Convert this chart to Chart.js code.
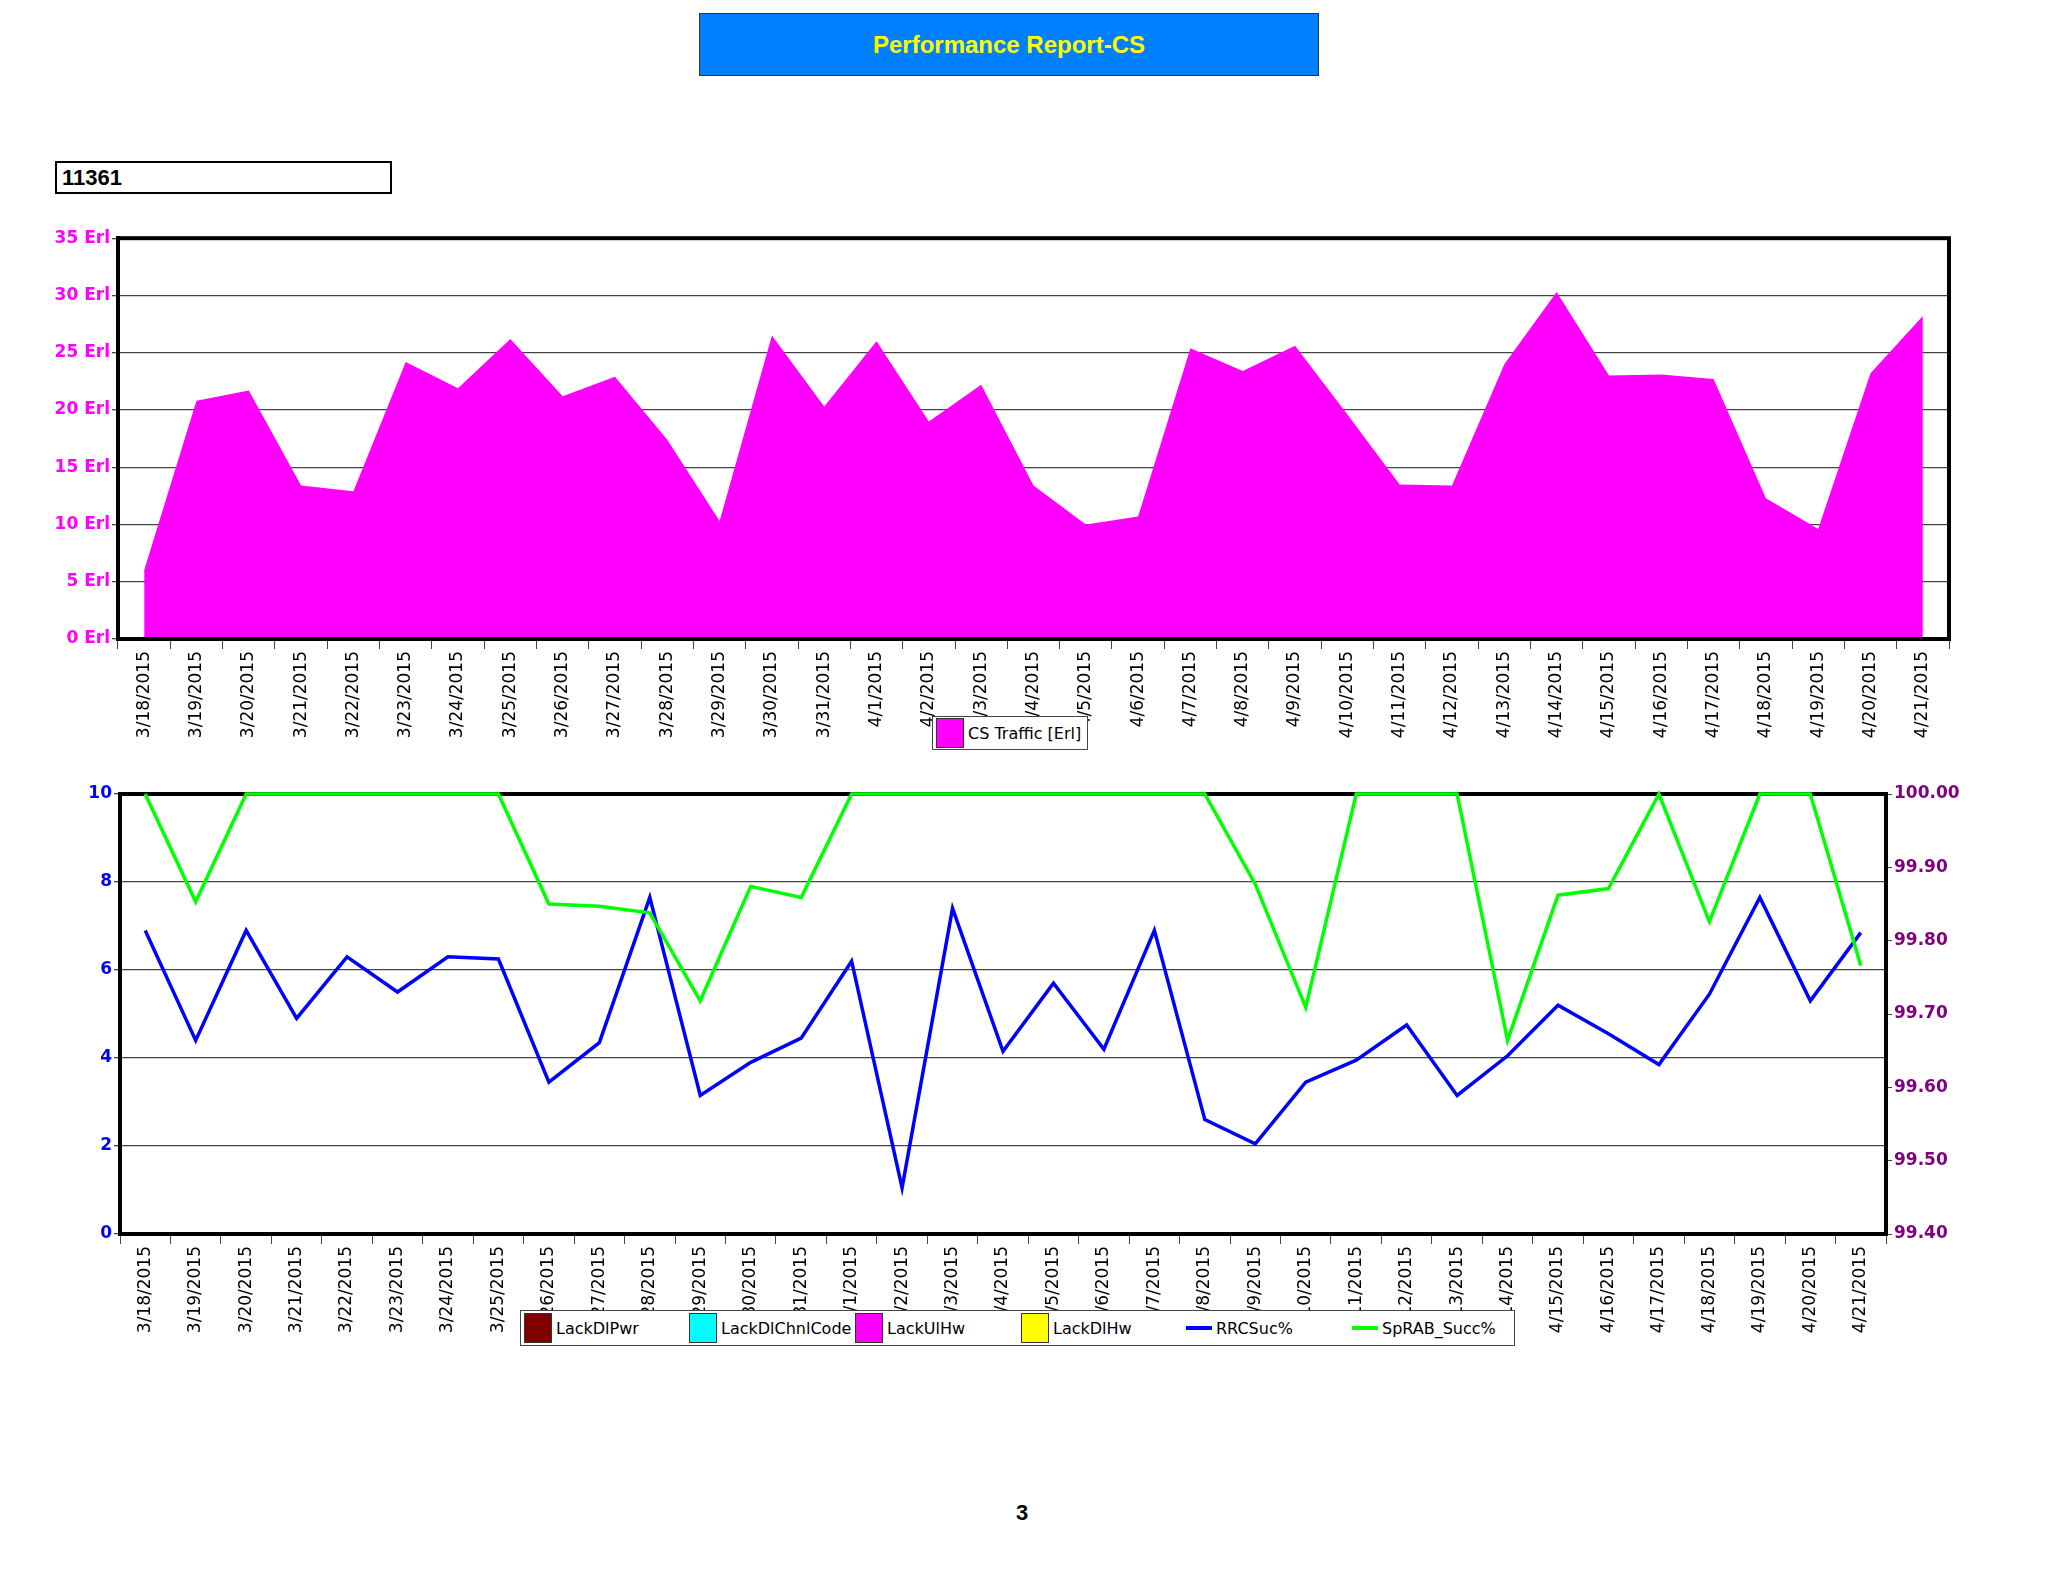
<!DOCTYPE html>
<html><head><meta charset="utf-8">
<script src="https://cdn.jsdelivr.net/npm/chart.js@4"></script>
<style>
body{margin:0;width:2048px;height:1582px;background:#fff;position:relative;font-family:"DejaVu Sans",sans-serif;overflow:hidden}
#title{position:absolute;left:699px;top:13px;width:618px;height:61px;background:#0080FF;border:1px solid #333;color:#FFFF00;font:bold 24px "Liberation Sans",Arial;display:flex;align-items:center;justify-content:center}
#site{position:absolute;left:55px;top:161px;width:328px;height:29px;border:2px solid #000;font:bold 22px "Liberation Sans",Arial;line-height:29px;padding-left:5px;box-sizing:content-box}
.cv{position:absolute}
#leg1{position:absolute;left:932px;top:716px;height:32px;border:1px solid #444;background:#fff;font:16px "DejaVu Sans";display:flex;align-items:center;padding:0 6px 0 3px}
#leg2{position:absolute;left:520px;top:1310px;width:993px;height:34px;border:1px solid #444;background:#fff;font:16px "DejaVu Sans";display:flex;align-items:center}
.it{display:flex;align-items:center;position:absolute}
.sw{width:26px;height:28px;border:1px solid #333;margin-right:4px}
.ln{width:26px;height:4px;margin-right:4px}
#pg{position:absolute;left:1016px;top:1500px;font:bold 22px "Liberation Sans",Arial}
</style></head><body>
<div id="title">Performance Report-CS</div>
<div id="site">11361</div>
<canvas id="c1" class="cv" style="left:0;top:226px" width="1960" height="513"></canvas>
<canvas id="c2" class="cv" style="left:0;top:780px" width="1990" height="554"></canvas>
<div id="leg1"><div class="sw" style="background:#FF00FF"></div>CS Traffic [Erl]</div>
<div id="leg2">
<div class="it" style="left:3px"><div class="sw" style="background:#800000"></div>LackDlPwr</div>
<div class="it" style="left:168px"><div class="sw" style="background:#00FFFF"></div>LackDlChnlCode</div>
<div class="it" style="left:334px"><div class="sw" style="background:#FF00FF"></div>LackUlHw</div>
<div class="it" style="left:500px"><div class="sw" style="background:#FFFF00"></div>LackDlHw</div>
<div class="it" style="left:665px"><div class="ln" style="background:#0000FF"></div>RRCSuc%</div>
<div class="it" style="left:831px"><div class="ln" style="background:#00FF00"></div>SpRAB_Succ%</div>
</div>
<div id="pg">3</div>
<script>
const dates=["3/18/2015","3/19/2015","3/20/2015","3/21/2015","3/22/2015","3/23/2015","3/24/2015","3/25/2015","3/26/2015","3/27/2015","3/28/2015","3/29/2015","3/30/2015","3/31/2015","4/1/2015","4/2/2015","4/3/2015","4/4/2015","4/5/2015","4/6/2015","4/7/2015","4/8/2015","4/9/2015","4/10/2015","4/11/2015","4/12/2015","4/13/2015","4/14/2015","4/15/2015","4/16/2015","4/17/2015","4/18/2015","4/19/2015","4/20/2015","4/21/2015"];
const csTraffic=[6,20.8,21.7,13.4,12.9,24.2,21.9,26.2,21.2,22.9,17.4,10.3,26.5,20.3,26.0,19.0,22.2,13.4,10.0,10.7,25.4,23.4,25.6,19.6,13.5,13.4,24.0,30.3,23.0,23.1,22.7,12.3,9.6,23.2,28.2];
const rrcSuc=[99.814,99.664,99.814,99.694,99.778,99.730,99.778,99.775,99.607,99.661,99.859,99.589,99.634,99.667,99.772,99.463,99.844,99.649,99.742,99.652,99.814,99.556,99.523,99.607,99.637,99.685,99.589,99.643,99.712,99.673,99.631,99.727,99.859,99.718,99.811];
const spRab=[100,99.853,100,100,100,100,100,100,99.850,99.847,99.838,99.718,99.874,99.859,100,100,100,100,100,100,100,100,99.877,99.709,100,100,100,99.664,99.862,99.871,100,99.826,100,100,99.766];
const erlTicks=[0,5,10,15,20,25,30,35];
const leftTicks=[0,2,4,6,8,10];
const rightTicks=[99.4,99.5,99.6,99.7,99.8,99.9,100];

const frameAfter={id:'frameA',afterDraw(c){const a=c.chartArea,x=c.ctx;x.save();x.strokeStyle='#000';x.lineWidth=4;x.strokeRect(a.left,a.top,a.right-a.left,a.bottom-a.top);x.restore();}};
const frameBefore={id:'frameB',beforeDatasetsDraw(c){const a=c.chartArea,x=c.ctx;x.save();x.strokeStyle='#000';x.lineWidth=4;x.strokeRect(a.left,a.top,a.right-a.left,a.bottom-a.top);x.restore();}};
const grid={color:'#444',lineWidth:1.3,tickLength:6,tickColor:'#444'};
const border={color:'#000',width:4};
const xScale=(h)=>({type:'category',offset:true,grid:{display:true,drawOnChartArea:false,offset:true,tickLength:10,color:'#444'},border:border,
 ticks:{color:'#000',font:{family:'DejaVu Sans',size:17},maxRotation:90,minRotation:90,autoSkip:false,padding:2},
 afterFit:s=>{s.height=h}});

new Chart(document.getElementById('c1'),{type:'line',plugins:[frameAfter],
 data:{labels:dates,datasets:[{label:'CS Traffic [Erl]',data:csTraffic,fill:'origin',backgroundColor:'#FF00FF',borderWidth:0,pointRadius:0,tension:0}]},
 options:{responsive:false,animation:false,layout:{padding:{top:10,right:11}},
  plugins:{legend:{display:false},tooltip:{enabled:false}},
  scales:{x:xScale(100),
   y:{min:0,max:35,afterBuildTicks:s=>{s.ticks=erlTicks.map(v=>({value:v}))},grid:grid,border:border,
    ticks:{color:'#FF00FF',font:{family:'DejaVu Sans',size:17,weight:'bold'},callback:v=>v+' Erl',padding:2},
    afterFit:s=>{s.width=118}}}}});

new Chart(document.getElementById('c2'),{type:'line',plugins:[frameBefore],
 data:{labels:dates,datasets:[
  {label:'SpRAB_Succ%',data:spRab,borderColor:'#00FF00',borderWidth:3.5,pointRadius:0,tension:0,yAxisID:'y2',clip:4},
  {label:'RRCSuc%',data:rrcSuc,borderColor:'#0000FF',borderWidth:3.5,pointRadius:0,tension:0,yAxisID:'y2'}]},
 options:{responsive:false,animation:false,layout:{padding:{top:14}},
  plugins:{legend:{display:false},tooltip:{enabled:false}},
  scales:{x:xScale(100),
   y:{position:'left',min:0,max:10,afterBuildTicks:s=>{s.ticks=leftTicks.map(v=>({value:v}))},grid:grid,border:border,
    ticks:{color:'#0000FF',font:{family:'DejaVu Sans',size:17,weight:'bold'},padding:2},afterFit:s=>{s.width=120}},
   y2:{position:'right',min:99.4,max:100,afterBuildTicks:s=>{s.ticks=rightTicks.map(v=>({value:v}))},grid:{drawOnChartArea:false,tickLength:6,color:'#444'},border:border,
    ticks:{color:'#800080',font:{family:'DejaVu Sans',size:17,weight:'bold'},callback:v=>Number(v).toFixed(2),padding:2},afterFit:s=>{s.width=104}}}}});
</script>
</body></html>
